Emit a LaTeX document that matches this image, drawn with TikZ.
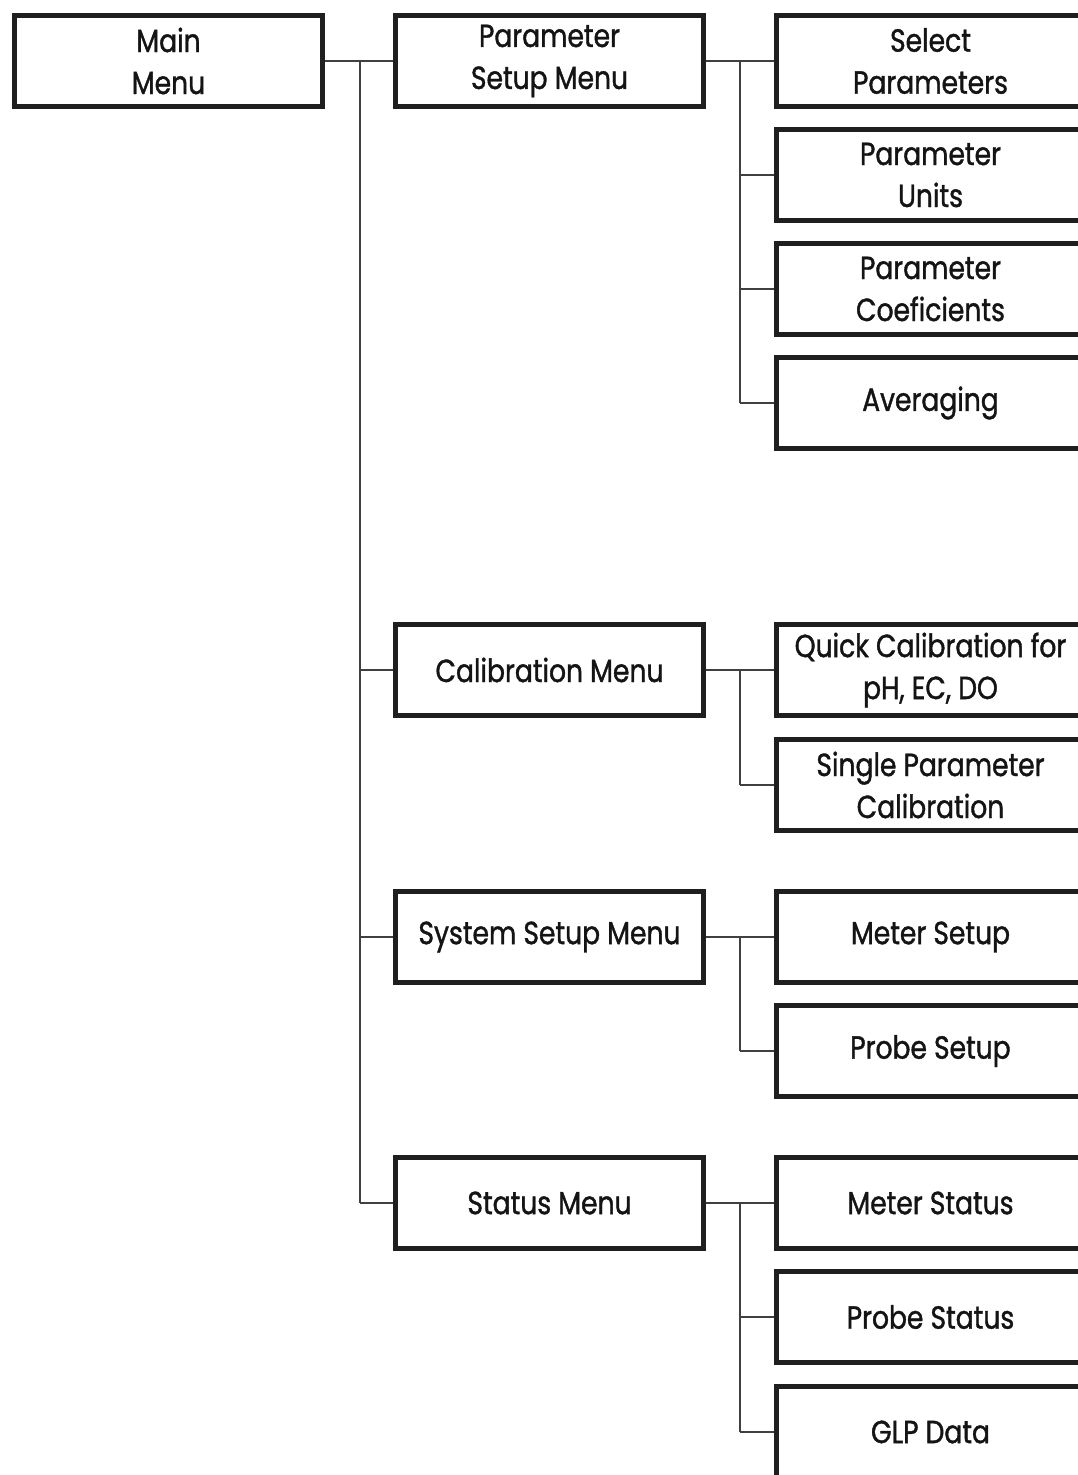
\documentclass[tikz,border=0pt]{standalone}
\usepackage{fontspec}
\setmainfont{Poppins}[FakeStretch=0.83,FakeBold=1.2]
\begin{document}
\begin{tikzpicture}[x=1pt,y=-1pt,
  menubox/.style={draw=black!88, line width=5pt, minimum width=308pt, minimum height=91pt,
    inner sep=0pt, align=center, font=\fontsize{32}{42}\selectfont, text=black!92},
  link/.style={draw=black!75, line width=2pt}]
\useasboundingbox (0,0) rectangle (1078,1475);
\clip (0,0) rectangle (1078,1475);
% left
\node[menubox] (main) at (168.5,61) {Main\\Menu};
% middle
\node[menubox] (psm) at (549.5,61) {Parameter\\Setup Menu};
\node[menubox] (cal) at (549.5,670) {Calibration Menu};
\node[menubox] (sys) at (549.5,937) {System Setup Menu};
\node[menubox] (sta) at (549.5,1203) {Status Menu};
% right
\node[menubox] (selp) at (930.5,61) {Select\\Parameters};
\node[menubox] (punit) at (930.5,175) {Parameter\\Units};
\node[menubox] (pcoef) at (930.5,289) {Parameter\\Coeficients};
\node[menubox] (avg) at (930.5,403) {Averaging};
\node[menubox] (qcal) at (930.5,670) {Quick Calibration for\\pH, EC, DO};
\node[menubox] (scal) at (930.5,785) {Single Parameter\\Calibration};
\node[menubox] (mset) at (930.5,937) {Meter Setup};
\node[menubox] (pset) at (930.5,1051) {Probe Setup};
\node[menubox] (msta) at (930.5,1203) {Meter Status};
\node[menubox] (psta) at (930.5,1317) {Probe Status};
\node[menubox] (glp) at (930.5,1432) {GLP Data};
% trunk coordinates
\coordinate (t0) at (360,61);
\coordinate (t1) at (360,1203);
\coordinate (a0) at (740,61);
\coordinate (a1) at (740,403);
\coordinate (b0) at (740,670);
\coordinate (b1) at (740,785);
\coordinate (c0) at (740,937);
\coordinate (c1) at (740,1051);
\coordinate (d0) at (740,1203);
\coordinate (d1) at (740,1432);
% main trunk
\draw[link] (main.east) -- (psm.west);
\draw[link] (t0) -- (t1);
\draw[link] (t0 |- cal.west) -- (cal.west);
\draw[link] (t0 |- sys.west) -- (sys.west);
\draw[link] (t1) -- (sta.west);
% parameter setup
\draw[link] (psm.east) -- (selp.west);
\draw[link] (a0) -- (a1);
\draw[link] (a0 |- punit.west) -- (punit.west);
\draw[link] (a0 |- pcoef.west) -- (pcoef.west);
\draw[link] (a1) -- (avg.west);
% calibration
\draw[link] (cal.east) -- (qcal.west);
\draw[link] (b0) -- (b1);
\draw[link] (b1) -- (scal.west);
% system
\draw[link] (sys.east) -- (mset.west);
\draw[link] (c0) -- (c1);
\draw[link] (c1) -- (pset.west);
% status
\draw[link] (sta.east) -- (msta.west);
\draw[link] (d0) -- (d1);
\draw[link] (d0 |- psta.west) -- (psta.west);
\draw[link] (d1) -- (glp.west);
\end{tikzpicture}
\end{document}
